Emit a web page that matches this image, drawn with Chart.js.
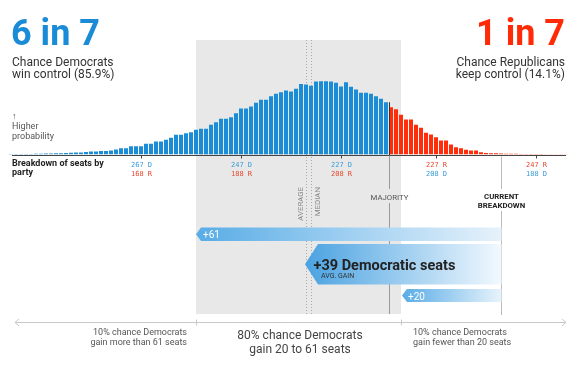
<!DOCTYPE html>
<html>
<head>
<meta charset="utf-8">
<script src="https://cdn.jsdelivr.net/npm/chart.js@4.4.1/dist/chart.umd.min.js"></script>
<style>
  body { margin: 0; background: #fff; font-family: Roboto, "Liberation Sans", sans-serif; }
  #wrap { position: relative; width: 582px; height: 369px; overflow: hidden; }
  #seatsChart { position: absolute; left: 0; top: 0; }
  .txt { position: absolute; white-space: nowrap; }
  .big { font-weight: 700; font-size: 36px; line-height: 36px; top: 15px; }
  .sub { font-size: 12px; line-height: 12px; top: 56px; color: #333; }
  .cap { font-size: 9px; line-height: 10px; top: 327px; color: #555; }
</style>
</head>
<body>
<div id="wrap">
  <canvas id="seatsChart" width="582" height="369"></canvas>

  <div class="txt big" style="left:11px; color:#1a8bd6;">6 in 7</div>
  <div class="txt sub" style="left:12px;">Chance Democrats<br>win control (85.9%)</div>

  <div class="txt big" style="right:17px; color:#ff2b06;">1 in 7</div>
  <div class="txt sub" style="right:17px; text-align:right;">Chance Republicans<br>keep control (14.1%)</div>

  <div class="txt" style="left:12px; top:111px; font-size:9px; line-height:10px; color:#555;">&#8593;<br>Higher<br>probability</div>
  <div class="txt" style="left:12px; top:159px; font-size:9px; line-height:8.5px; font-weight:700; color:#222;">Breakdown of seats by<br>party</div>

  <div class="txt cap" style="right:395px; text-align:right;">10% chance Democrats<br>gain more than 61 seats</div>
  <div class="txt" style="left:200px; width:200px; top:328px; text-align:center; font-size:12px; line-height:14px; color:#444;">80% chance Democrats<br>gain 20 to 61 seats</div>
  <div class="txt cap" style="left:413px;">10% chance Democrats<br>gain fewer than 20 seats</div>
</div>

<script>
// Democratic seat totals, one bar each (more Democratic seats on the left)
const demSeats = [
  293, 292, 291, 290, 289, 288, 287, 286, 285, 284, 283, 282, 281, 280, 279, 278,
  277, 276, 275, 274, 273, 272, 271, 270, 269, 268, 267, 266, 265, 264, 263, 262,
  261, 260, 259, 258, 257, 256, 255, 254, 253, 252, 251, 250, 249, 248, 247, 246,
  245, 244, 243, 242, 241, 240, 239, 238, 237, 236, 235, 234, 233, 232, 231, 230,
  229, 228, 227, 226, 225, 224, 223, 222, 221, 220, 219, 218, 217, 216, 215, 214,
  213, 212, 211, 210, 209, 208, 207, 206, 205, 204, 203, 202, 201, 200, 199, 198,
  197, 196, 195, 194, 193, 192, 191, 190, 189, 188, 187, 186, 185, 184, 183, 182
];

// relative probability of each outcome
const seatOdds = [
  0.4, 0.4, 0.5, 0.5, 0.6, 0.8, 0.8, 1, 1, 1.3, 1.3, 1.5, 1.8, 2, 2, 2.5,
  3, 3, 3.5, 3.5, 4, 5, 6.3, 6.3, 8.3, 8.3, 8.3, 10.7, 10.7, 13, 13, 14.7,
  16.7, 19.7, 19.7, 21.3, 22.3, 24.7, 25.7, 25.7, 29.7, 32.3, 35.7, 35.7, 37.3, 41.3, 46, 46,
  48, 51.7, 54.7, 54.7, 58.3, 60.7, 62.3, 64, 63, 65.7, 70.5, 70, 68.7, 73, 73.3, 73.3,
  73, 71.7, 68, 72.3, 67.7, 65, 61.7, 61.7, 60.7, 58.3, 55.7, 52.3, 47.3, 45.3, 39.7, 35,
  35, 29.7, 26.7, 21.7, 20, 17.3, 14, 14, 10, 7.3, 6.3, 4.7, 4, 4, 2.3, 1.5,
  1.3, 1.2, 1, 0.8, 0.8, 0.7, 0.6, 0.5, 0.5, 0.4, 0.4, 0.3, 0.3, 0.3, 0.3, 0.3
];

// axis ticks
const tickSeats = [267, 247, 227, 208, 188];
const tickTopLabels = ['267 D', '247 D', '227 D', '227 R', '247 R'];
const tickBottomLabels = ['168 R', '188 R', '208 R', '208 D', '188 D'];

// reference points
const currentDemSeats = 195;
const majoritySeats = 218;
const avgGain = 39;
const medianGain = 38;
const lowGain = 20;
const highGain = 61;

const BLUE = '#1b8dd7';
const RED = '#ff2d0a';

function xOf(chart, seat) {
  const x = chart.scales.x;
  const x0 = x.getPixelForValue(0);
  const step = x.getPixelForValue(1) - x0;
  return x0 + (demSeats[0] - seat) * step;
}

function arrow(ctx, tipX, rightX, top, bottom, notch, c0, c1) {
  const mid = (top + bottom) / 2;
  const g = ctx.createLinearGradient(tipX, 0, rightX, 0);
  g.addColorStop(0, c0);
  g.addColorStop(1, c1);
  ctx.fillStyle = g;
  ctx.beginPath();
  ctx.moveTo(tipX, mid);
  ctx.lineTo(tipX + notch, top);
  ctx.lineTo(rightX, top);
  ctx.lineTo(rightX, bottom);
  ctx.lineTo(tipX + notch, bottom);
  ctx.closePath();
  ctx.fill();
}

// grey 80% band and the average / median lines, behind the bars
const backdrop = {
  id: 'backdrop',
  beforeDatasetsDraw(chart) {
    const ctx = chart.ctx;
    const left = xOf(chart, currentDemSeats + highGain);
    const right = xOf(chart, currentDemSeats + lowGain);
    ctx.save();
    ctx.fillStyle = '#e8e8e8';
    ctx.fillRect(left, 40, right - left, 274);

    ctx.strokeStyle = '#aaa';
    ctx.lineWidth = 1;
    ctx.setLineDash([1, 2]);
    [currentDemSeats + avgGain, currentDemSeats + medianGain].forEach(s => {
      const x = Math.round(xOf(chart, s)) + 0.5;
      ctx.beginPath();
      ctx.moveTo(x, 40);
      ctx.lineTo(x, 314);
      ctx.stroke();
    });
    ctx.restore();
  }
};

const annotations = {
  id: 'annotations',
  afterDatasetsDraw(chart) {
    const ctx = chart.ctx;
    const area = chart.chartArea;
    const base = 155.5;
    ctx.save();

    // baseline
    ctx.strokeStyle = '#444';
    ctx.lineWidth = 1;
    ctx.beginPath();
    ctx.moveTo(12, base);
    ctx.lineTo(566, base);
    ctx.stroke();

    // tick marks and two-line labels
    ctx.font = '7px "DejaVu Sans Mono", monospace';
    ctx.textAlign = 'center';
    tickSeats.forEach((s, i) => {
      const x = Math.round(xOf(chart, s)) + 0.5;
      ctx.strokeStyle = '#444';
      ctx.beginPath();
      ctx.moveTo(x, base);
      ctx.lineTo(x, base + 3);
      ctx.stroke();
      const demFirst = i < 3;
      ctx.fillStyle = demFirst ? '#3a9bd8' : '#e8472d';
      ctx.fillText(tickTopLabels[i], x, 167);
      ctx.fillStyle = demFirst ? '#e8472d' : '#3a9bd8';
      ctx.fillText(tickBottomLabels[i], x, 175.5);
    });

    // majority line
    const mx = Math.round(xOf(chart, majoritySeats - 0.5)) + 0.5;
    const barTop = chart.scales.y.getPixelForValue(seatOdds[demSeats.indexOf(majoritySeats)]);
    ctx.strokeStyle = '#333';
    ctx.beginPath();
    ctx.moveTo(mx, barTop);
    ctx.lineTo(mx, base);
    ctx.stroke();
    ctx.strokeStyle = '#999';
    ctx.beginPath();
    ctx.moveTo(mx, base);
    ctx.lineTo(mx, 189);
    ctx.moveTo(mx, 203);
    ctx.lineTo(mx, 314);
    ctx.stroke();

    // current breakdown line
    const cx = Math.round(xOf(chart, currentDemSeats)) + 0.5;
    ctx.strokeStyle = '#bbb';
    ctx.beginPath();
    ctx.moveTo(cx, base + 1);
    ctx.lineTo(cx, 189);
    ctx.moveTo(cx, 211);
    ctx.lineTo(cx, 315);
    ctx.stroke();

    // line labels
    ctx.font = '7.8px Roboto, sans-serif';
    ctx.fillStyle = '#555';
    ctx.textAlign = 'center';
    ctx.fillText('MAJORITY', mx, 199.5);
    ctx.font = 'bold 7.8px Roboto, sans-serif';
    ctx.fillStyle = '#222';
    ctx.fillText('CURRENT', cx, 199);
    ctx.fillText('BREAKDOWN', cx, 207.5);

    ctx.font = '7.8px Roboto, sans-serif';
    ctx.fillStyle = '#888';
    ctx.textAlign = 'right';
    const ax = xOf(chart, currentDemSeats + avgGain);
    const mdx = xOf(chart, currentDemSeats + medianGain);
    ctx.save();
    ctx.translate(ax - 3.5, 187);
    ctx.rotate(-Math.PI / 2);
    ctx.textAlign = 'left';
    ctx.restore();
    [['AVERAGE', ax - 3.5], ['MEDIAN', mdx + 8.5]].forEach(([t, x]) => {
      ctx.save();
      ctx.translate(x, 187);
      ctx.rotate(-Math.PI / 2);
      ctx.textAlign = 'right';
      ctx.fillText(t, 0, 0);
      ctx.restore();
    });

    // gain arrows, all ending at the current breakdown
    const hiX = xOf(chart, currentDemSeats + highGain);
    const avX = xOf(chart, currentDemSeats + avgGain);
    const loX = xOf(chart, currentDemSeats + lowGain);
    arrow(ctx, hiX, cx, 227.5, 241, 5, '#58ace6', '#e6f2fb');
    arrow(ctx, avX - 1, cx, 244, 284.5, 13, '#4aa2e1', '#f2f9fe');
    arrow(ctx, loX + 1, cx, 289, 302, 5, '#58ace6', '#e8f3fb');

    ctx.textAlign = 'left';
    ctx.font = '10px Roboto, sans-serif';
    ctx.fillStyle = '#fff';
    ctx.fillText('+' + highGain, hiX + 7, 238);
    ctx.fillText('+' + lowGain, loX + 7, 299.5);
    ctx.font = 'bold 14.5px Roboto, sans-serif';
    ctx.fillStyle = '#222';
    ctx.fillText('+' + avgGain + ' Democratic seats', avX + 7.5, 270);
    ctx.font = '7px Roboto, sans-serif';
    ctx.fillStyle = '#333';
    ctx.fillText('AVG. GAIN', avX + 15, 278);

    // range line at the bottom
    const ry = 322.5;
    ctx.strokeStyle = '#c8c8c8';
    ctx.beginPath();
    ctx.moveTo(15, ry);
    ctx.lineTo(566, ry);
    ctx.moveTo(19, ry - 3.5);
    ctx.lineTo(15, ry);
    ctx.lineTo(19, ry + 3.5);
    ctx.moveTo(562, ry - 3.5);
    ctx.lineTo(566, ry);
    ctx.lineTo(562, ry + 3.5);
    [hiX, loX].forEach(x => {
      ctx.moveTo(Math.round(x) + 0.5, ry - 3);
      ctx.lineTo(Math.round(x) + 0.5, ry + 3);
    });
    ctx.stroke();

    ctx.restore();
  }
};

const ctx = document.getElementById('seatsChart').getContext('2d');
new Chart(ctx, {
  type: 'bar',
  data: {
    labels: demSeats,
    datasets: [{
      data: seatOdds,
      backgroundColor: demSeats.map(s => s >= majoritySeats ? BLUE : RED),
      borderWidth: 0,
      barPercentage: 0.8,
      categoryPercentage: 1
    }]
  },
  options: {
    responsive: false,
    animation: false,
    devicePixelRatio: 1,
    layout: { padding: { left: 8.5, right: 13.5, top: 74.5, bottom: 214.5 } },
    scales: {
      x: { display: false },
      y: { display: false, min: 0, max: 80 }
    },
    plugins: {
      legend: { display: false },
      tooltip: { enabled: false }
    }
  },
  plugins: [backdrop, annotations]
});
</script>
</body>
</html>
